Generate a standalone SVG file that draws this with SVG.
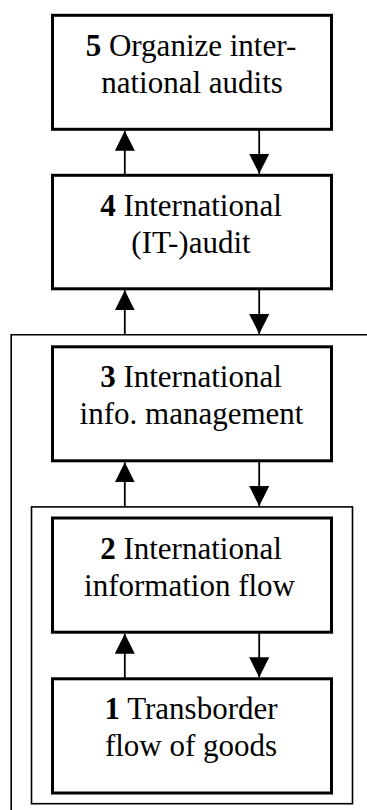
<svg xmlns="http://www.w3.org/2000/svg" width="367" height="810" viewBox="0 0 367 810">
<style>
.box{fill:#fff;stroke:#000;stroke-width:3}
.frame{fill:none;stroke:#000;stroke-width:1.6}
.conn{stroke:#000;stroke-width:1.8;fill:none}
.t{font-family:"Liberation Serif",serif;font-size:31px;fill:#000;text-anchor:middle}
.b{font-weight:bold}
</style>
<defs>
<marker id="ah" markerUnits="userSpaceOnUse" markerWidth="20" markerHeight="20" viewBox="0 0 20 20" refX="20" refY="10" orient="auto">
<path d="M0,0 L20,10 L0,20 z" fill="#000"/>
</marker>
</defs>
<g id="frames">
<polyline class="frame" points="11.2,810 11.2,334.8 367,334.8"/>
<rect class="frame" x="31.5" y="506.9" width="321" height="296.8"/>
</g>
<g id="n5">
<rect class="box" x="52.5" y="15.3" width="279" height="114"/>
<text class="t" x="191" y="55.8"><tspan class="b">5</tspan> Organize inter-</text>
<text class="t" x="192" y="92.8">national audits</text>
</g>
<g id="n4">
<rect class="box" x="52.5" y="175.3" width="279" height="113.5"/>
<text class="t" x="191" y="215.8"><tspan class="b">4</tspan> International</text>
<text class="t" x="191" y="252.8">(IT-)audit</text>
</g>
<g id="n3">
<rect class="box" x="52.5" y="346.8" width="279" height="114"/>
<text class="t" x="191" y="387.3"><tspan class="b">3</tspan> International</text>
<text class="t" x="191.5" y="424.3">info. management</text>
</g>
<g id="n2">
<rect class="box" x="52.5" y="518" width="279" height="114.2"/>
<text class="t" x="191" y="558.5"><tspan class="b">2</tspan> International</text>
<text class="t" x="189.5" y="595.5">information flow</text>
</g>
<g id="n1">
<rect class="box" x="52.5" y="678.8" width="279" height="114.2"/>
<text class="t" x="191" y="719.3"><tspan class="b">1</tspan> Transborder</text>
<text class="t" x="191" y="756.3">flow of goods</text>
</g>
<g id="connectors">
<line class="conn" x1="124.8" y1="175.3" x2="124.8" y2="130.8" marker-end="url(#ah)"/>
<line class="conn" x1="259.2" y1="129.3" x2="259.2" y2="173.8" marker-end="url(#ah)"/>
<line class="conn" x1="124.8" y1="334.8" x2="124.8" y2="290.3" marker-end="url(#ah)"/>
<line class="conn" x1="259.2" y1="288.8" x2="259.2" y2="334" marker-end="url(#ah)"/>
<line class="conn" x1="124.8" y1="506.9" x2="124.8" y2="462.3" marker-end="url(#ah)"/>
<line class="conn" x1="259.2" y1="460.8" x2="259.2" y2="506.1" marker-end="url(#ah)"/>
<line class="conn" x1="124.8" y1="678.8" x2="124.8" y2="633.7" marker-end="url(#ah)"/>
<line class="conn" x1="259.2" y1="632.2" x2="259.2" y2="677.3" marker-end="url(#ah)"/>
</g>
</svg>
